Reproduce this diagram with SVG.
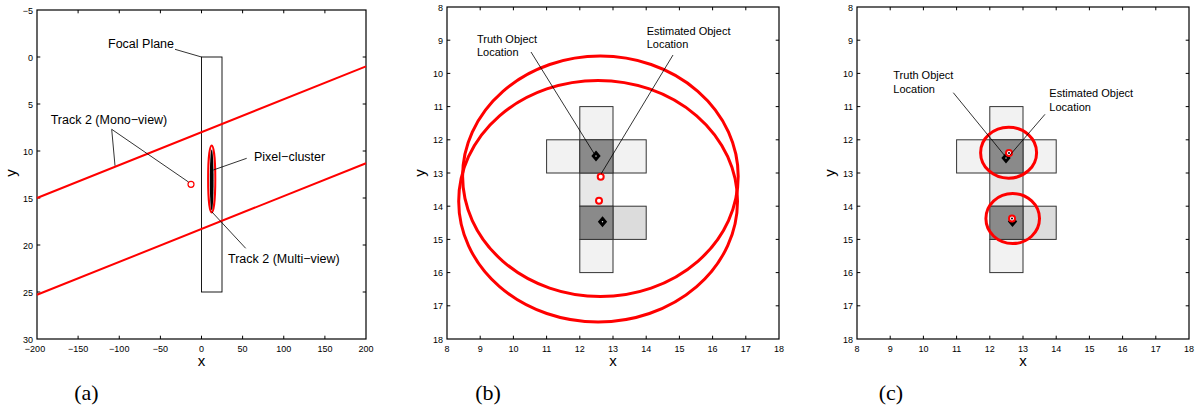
<svg xmlns="http://www.w3.org/2000/svg" width="1195" height="411" viewBox="0 0 1195 411">
<style>
.ax{fill:none;stroke:#000;stroke-width:1.2}
.tk{stroke:#000;stroke-width:1}
.tl{font-family:"Liberation Sans",Arial,sans-serif;font-size:9px;fill:#000}
.al{font-family:"Liberation Sans",Arial,sans-serif;font-size:15px;fill:#000}
.lb{font-family:"Liberation Sans",Arial,sans-serif;font-size:12.5px;fill:#000}
.lb2{font-family:"Liberation Sans",Arial,sans-serif;font-size:11px;fill:#000}
.cap{font-family:"Liberation Serif","Times New Roman",serif;font-size:22px;fill:#000}
.ld{stroke:#000;stroke-width:0.8;fill:none}
.trk{stroke:#f00;stroke-width:2;fill:none}
.ell{stroke:#f00;stroke-width:3;fill:none}
.sc{stroke:#f00;stroke-width:2;fill:#fff}
.px{stroke:#333;stroke-width:1}
.dm{stroke:#000;stroke-width:3;fill:#fff;stroke-linejoin:miter}
</style>
<defs>
<path id="dia" d="M0,-3.2 L2.7,0 L0,3.2 L-2.7,0 Z"/>
</defs>

<!-- Panel (a) -->
<g id="panel-a">
<g id="a-axes">
<rect x="37" y="10" width="329" height="329" fill="#fff" class="ax"/>
<g class="tk">
<path d="M78.1,339v-3.3M119.25,339v-3.3M160.4,339v-3.3M201.5,339v-3.3M242.6,339v-3.3M283.75,339v-3.3M324.9,339v-3.3M78.1,10v3.3M119.25,10v3.3M160.4,10v3.3M201.5,10v3.3M242.6,10v3.3M283.75,10v3.3M324.9,10v3.3M37,57h3.3M37,104h3.3M37,151h3.3M37,198h3.3M37,245h3.3M37,292h3.3M366,57h-3.3M366,104h-3.3M366,151h-3.3M366,198h-3.3M366,245h-3.3M366,292h-3.3"/>
</g>
<g class="tl" text-anchor="end">
<text x="33" y="13.5">−5</text><text x="33" y="60.5">0</text><text x="33" y="107.5">5</text><text x="33" y="154.5">10</text><text x="33" y="201.5">15</text><text x="33" y="248.5">20</text><text x="33" y="295.5">25</text><text x="33" y="342.5">30</text>
</g>
<g class="tl" text-anchor="middle">
<text x="35" y="351.5">−200</text><text x="78.1" y="351.5">−150</text><text x="119.25" y="351.5">−100</text><text x="160.4" y="351.5">−50</text><text x="201.5" y="351.5">0</text><text x="242.6" y="351.5">50</text><text x="283.75" y="351.5">100</text><text x="324.9" y="351.5">150</text><text x="366" y="351.5">200</text>
</g>
<text class="al" x="201.5" y="366" text-anchor="middle">x</text>
<text class="al" x="16" y="173" text-anchor="middle" transform="rotate(-90 16 173)">y</text>
</g>
<g id="a-focal-plane"><rect x="201.5" y="57" width="20.5" height="235" fill="none" stroke="#000" stroke-width="0.9"/></g>
<g id="a-tracks">
<line class="trk" x1="37" y1="198" x2="366" y2="66.4"/>
<line class="trk" x1="37" y1="294.8" x2="366" y2="163.2"/>
<circle cx="191" cy="184.3" r="3" fill="none" stroke="#f00" stroke-width="1.2"/>
</g>
<g id="a-pixel-cluster">
<ellipse cx="211.7" cy="179" rx="3.6" ry="33.5" fill="none" stroke="#f00" stroke-width="2"/>
<ellipse cx="211.7" cy="180" rx="1.9" ry="30.5" fill="#000"/>
</g>
<g id="a-labels">
<text class="lb" x="108" y="47.5">Focal Plane</text>
<text class="lb" x="50.7" y="124">Track 2 (Mono−view)</text>
<text class="lb" x="254" y="160.7">Pixel−cluster</text>
<text class="lb" x="228" y="263.3">Track 2 (Multi−view)</text>
</g>
<text class="cap" x="86.5" y="400" text-anchor="middle">(a)</text>
</g>

<!-- Panel (b) -->
<g id="panel-b">
<g id="b-axes">
<rect x="447" y="7" width="332" height="332" fill="#fff" class="ax"/>
<g class="tk">
<path d="M480.2,339v-3.3M513.4,339v-3.3M546.6,339v-3.3M579.8,339v-3.3M613,339v-3.3M646.2,339v-3.3M679.4,339v-3.3M712.6,339v-3.3M745.8,339v-3.3M480.2,7v3.3M513.4,7v3.3M546.6,7v3.3M579.8,7v3.3M613,7v3.3M646.2,7v3.3M679.4,7v3.3M712.6,7v3.3M745.8,7v3.3M447,40.2h3.3M447,73.4h3.3M447,106.6h3.3M447,139.8h3.3M447,173h3.3M447,206.2h3.3M447,239.4h3.3M447,272.6h3.3M447,305.8h3.3M779,40.2h-3.3M779,73.4h-3.3M779,106.6h-3.3M779,139.8h-3.3M779,173h-3.3M779,206.2h-3.3M779,239.4h-3.3M779,272.6h-3.3M779,305.8h-3.3"/>
</g>
<g class="tl" text-anchor="end">
<text x="443" y="10.5">8</text><text x="443" y="43.7">9</text><text x="443" y="76.9">10</text><text x="443" y="110.1">11</text><text x="443" y="143.3">12</text><text x="443" y="176.5">13</text><text x="443" y="209.7">14</text><text x="443" y="242.9">15</text><text x="443" y="276.1">16</text><text x="443" y="309.3">17</text><text x="443" y="342.5">18</text>
</g>
<g class="tl" text-anchor="middle">
<text x="447" y="351.5">8</text><text x="480.2" y="351.5">9</text><text x="513.4" y="351.5">10</text><text x="546.6" y="351.5">11</text><text x="579.8" y="351.5">12</text><text x="613" y="351.5">13</text><text x="646.2" y="351.5">14</text><text x="679.4" y="351.5">15</text><text x="712.6" y="351.5">16</text><text x="745.8" y="351.5">17</text><text x="779" y="351.5">18</text>
</g>
<text class="al" x="613" y="366" text-anchor="middle">x</text>
<text class="al" x="425" y="173" text-anchor="middle" transform="rotate(-90 425 173)">y</text>
</g>
<g id="b-pixels" class="px">
<rect x="579.8" y="106.6" width="33.2" height="33.2" fill="#f2f2f2"/>
<rect x="546.6" y="139.8" width="33.2" height="33.2" fill="#f2f2f2"/>
<rect x="613" y="139.8" width="33.2" height="33.2" fill="#f2f2f2"/>
<rect x="579.8" y="173" width="33.2" height="33.2" fill="#e8e8e8"/>
<rect x="579.8" y="239.4" width="33.2" height="33.2" fill="#f2f2f2"/>
<rect x="613" y="206.2" width="33.2" height="33.2" fill="#dcdcdc"/>
<rect x="579.8" y="139.8" width="33.2" height="33.2" fill="#8a8a8a"/>
<rect x="579.8" y="206.2" width="33.2" height="33.2" fill="#8a8a8a"/>
</g>
<g id="b-estimates">
<ellipse class="ell" cx="600.4" cy="176.3" rx="137.8" ry="120.2"/>
<ellipse class="ell" cx="598.1" cy="201.2" rx="139.4" ry="120.8"/>
<circle class="sc" cx="600.7" cy="176.7" r="3"/>
<circle class="sc" cx="599" cy="200.7" r="3"/>
</g>
<g id="b-truth">
<use href="#dia" class="dm" x="596" y="156"/>
<use href="#dia" class="dm" x="602.5" y="221.7"/>
</g>
<g id="b-labels">
<text class="lb2" x="477" y="42.5">Truth Object</text>
<text class="lb2" x="477" y="55.5">Location</text>
<text class="lb2" x="646.7" y="34.5">Estimated Object</text>
<text class="lb2" x="646.7" y="47.5">Location</text>
</g>
<text class="cap" x="488" y="400" text-anchor="middle">(b)</text>
</g>

<!-- Panel (c) -->
<g id="panel-c">
<g id="c-axes">
<rect x="857" y="7" width="332" height="332" fill="#fff" class="ax"/>
<g class="tk">
<path d="M890.2,339v-3.3M923.4,339v-3.3M956.6,339v-3.3M989.8,339v-3.3M1023,339v-3.3M1056.2,339v-3.3M1089.4,339v-3.3M1122.6,339v-3.3M1155.8,339v-3.3M890.2,7v3.3M923.4,7v3.3M956.6,7v3.3M989.8,7v3.3M1023,7v3.3M1056.2,7v3.3M1089.4,7v3.3M1122.6,7v3.3M1155.8,7v3.3M857,40.2h3.3M857,73.4h3.3M857,106.6h3.3M857,139.8h3.3M857,173h3.3M857,206.2h3.3M857,239.4h3.3M857,272.6h3.3M857,305.8h3.3M1189,40.2h-3.3M1189,73.4h-3.3M1189,106.6h-3.3M1189,139.8h-3.3M1189,173h-3.3M1189,206.2h-3.3M1189,239.4h-3.3M1189,272.6h-3.3M1189,305.8h-3.3"/>
</g>
<g class="tl" text-anchor="end">
<text x="853" y="10.5">8</text><text x="853" y="43.7">9</text><text x="853" y="76.9">10</text><text x="853" y="110.1">11</text><text x="853" y="143.3">12</text><text x="853" y="176.5">13</text><text x="853" y="209.7">14</text><text x="853" y="242.9">15</text><text x="853" y="276.1">16</text><text x="853" y="309.3">17</text><text x="853" y="342.5">18</text>
</g>
<g class="tl" text-anchor="middle">
<text x="857" y="351.5">8</text><text x="890.2" y="351.5">9</text><text x="923.4" y="351.5">10</text><text x="956.6" y="351.5">11</text><text x="989.8" y="351.5">12</text><text x="1023" y="351.5">13</text><text x="1056.2" y="351.5">14</text><text x="1089.4" y="351.5">15</text><text x="1122.6" y="351.5">16</text><text x="1155.8" y="351.5">17</text><text x="1189" y="351.5">18</text>
</g>
<text class="al" x="1023" y="366" text-anchor="middle">x</text>
<text class="al" x="835" y="173" text-anchor="middle" transform="rotate(-90 835 173)">y</text>
</g>
<g id="c-pixels" class="px">
<rect x="989.8" y="106.6" width="33.2" height="33.2" fill="#f2f2f2"/>
<rect x="956.6" y="139.8" width="33.2" height="33.2" fill="#f2f2f2"/>
<rect x="1023" y="139.8" width="33.2" height="33.2" fill="#f2f2f2"/>
<rect x="989.8" y="173" width="33.2" height="33.2" fill="#e8e8e8"/>
<rect x="989.8" y="239.4" width="33.2" height="33.2" fill="#f2f2f2"/>
<rect x="1023" y="206.2" width="33.2" height="33.2" fill="#dcdcdc"/>
<rect x="989.8" y="139.8" width="33.2" height="33.2" fill="#8a8a8a"/>
<rect x="989.8" y="206.2" width="33.2" height="33.2" fill="#8a8a8a"/>
</g>
<g id="c-truth">
<use href="#dia" class="dm" x="1006" y="158"/>
<use href="#dia" class="dm" x="1012.5" y="221.5"/>
</g>
<g id="c-estimates">
<ellipse class="ell" cx="1008.6" cy="152.7" rx="28" ry="25.5"/>
<ellipse class="ell" cx="1012.7" cy="218.6" rx="26.8" ry="25"/>
<circle class="sc" cx="1009" cy="153" r="3"/>
<circle class="sc" cx="1012" cy="218.5" r="3"/>
<circle cx="1009" cy="153" r="1" fill="#000"/>
<circle cx="1012" cy="218.5" r="1" fill="#000"/>
</g>
<g id="c-labels">
<text class="lb2" x="893.3" y="79">Truth Object</text>
<text class="lb2" x="893.3" y="92.5">Location</text>
<text class="lb2" x="1049.3" y="97">Estimated Object</text>
<text class="lb2" x="1049.3" y="110.5">Location</text>
</g>
<text class="cap" x="891" y="400" text-anchor="middle">(c)</text>
</g>

<!-- Connectors (leader lines) -->
<g id="connectors" class="ld">
<line x1="175" y1="49.3" x2="201.5" y2="57"/>
<line x1="111.7" y1="129.3" x2="115" y2="165.7"/>
<line x1="111.7" y1="129.3" x2="188.5" y2="182"/>
<line x1="246.7" y1="158.3" x2="213.3" y2="170"/>
<line x1="245.7" y1="248.3" x2="211.7" y2="211.7"/>
<line x1="531" y1="52" x2="595" y2="155"/>
<line x1="673" y1="55" x2="601" y2="174"/>
<line x1="953.3" y1="92.7" x2="1005" y2="156"/>
<line x1="1045" y1="114.3" x2="1010" y2="155"/>
</g>
</svg>
